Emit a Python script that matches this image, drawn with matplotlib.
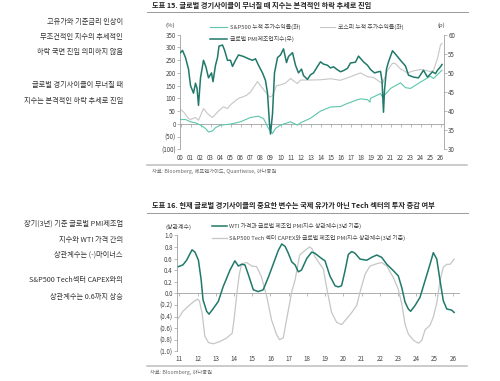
import numpy as np
import matplotlib
matplotlib.use("Agg")
import matplotlib.pyplot as plt
from matplotlib.lines import Line2D

plt.rcParams['font.family'] = ['Noto Sans CJK KR', 'DejaVu Sans']

# ---- 도표 15 데이터 ----
pmi_t = [2000.0, 2000.2, 2000.5, 2000.8, 2001.0, 2001.3, 2001.5, 2001.65, 2001.8, 2002.0,
         2002.3, 2002.55, 2002.8, 2003.1, 2003.25, 2003.5, 2003.7, 2003.85, 2004.2, 2004.4,
         2004.7, 2005.0, 2005.2, 2005.5, 2005.8, 2006.3, 2006.8, 2007.2, 2007.5, 2007.8,
         2008.2, 2008.5, 2008.7, 2008.9, 2009.0, 2009.2, 2009.4, 2009.7, 2010.0, 2010.3,
         2010.6, 2010.8, 2011.2, 2011.5, 2011.8, 2012.1, 2012.3, 2012.7, 2013.0, 2013.3,
         2013.7, 2014.0, 2014.3, 2014.7, 2015.0, 2015.3, 2015.7, 2016.0, 2016.3, 2016.7,
         2017.0, 2017.5, 2017.8, 2018.3, 2018.7, 2019.0, 2019.4, 2019.8, 2020.0, 2020.15,
         2020.3, 2020.4, 2020.6, 2020.8, 2021.2, 2021.5, 2022.0, 2022.5, 2022.8, 2023.3,
         2023.8, 2024.3, 2024.7, 2025.2, 2025.5, 2025.7, 2026.0, 2026.15]
pmi_v = [55.3, 55.9, 54.0, 51.0, 46.7, 44.7, 47.3, 46.0, 41.5, 48.7,
         53.3, 51.5, 48.7, 50.0, 47.7, 52.0, 54.0, 57.0, 57.3, 56.0,
         53.3, 53.3, 51.7, 53.3, 54.7, 54.3, 53.7, 53.3, 53.7, 52.0,
         50.0, 48.0, 44.7, 36.7, 34.0, 39.3, 50.0, 54.0, 54.7, 56.3,
         52.7, 54.3, 55.3, 52.0, 50.0, 51.0, 49.3, 48.3, 49.5, 50.0,
         51.7, 52.9, 52.3, 52.0, 51.3, 51.6, 50.8, 50.3, 50.6, 51.2,
         52.6, 52.8, 54.4, 52.9, 52.0, 50.9, 50.0, 50.3, 50.4, 48.0,
         39.7, 45.4, 51.0, 52.9, 55.8, 54.9, 53.3, 51.8, 49.4, 48.9,
         48.7, 50.7, 48.9, 50.3, 49.8, 50.7, 51.6, 52.2]

sp_t = [2000.0, 2000.5, 2001.0, 2001.5, 2002.0, 2002.5, 2002.8, 2003.2, 2003.5, 2004.0,
        2005.0, 2006.0, 2007.0, 2007.8, 2008.3, 2008.8, 2009.2, 2009.5, 2010.0, 2011.0,
        2011.7, 2012.0, 2013.0, 2014.0, 2015.0, 2016.0, 2016.5, 2017.5, 2018.0, 2018.7,
        2018.95, 2019.0, 2020.0, 2020.2, 2020.7, 2021.0, 2022.0, 2022.5, 2023.0, 2024.0,
        2025.0, 2025.3, 2026.0, 2026.15]
sp_v = [17, 17, 8, 4, -5, -18, -32, -28, -15, -5,
        -1, 8, 25, 30, 21, -18, -38, -18, -5, 8,
        -5, 4, 22, 50, 66, 68, 77, 92, 98, 95,
        85, 100, 119, 105, 125, 139, 161, 142, 139, 164,
        187, 178, 205, 210]

kospi_t = [2000.0, 2000.3, 2000.8, 2001.0, 2001.5, 2001.8, 2002.3, 2002.7, 2003.2, 2003.8,
           2004.3, 2004.7, 2005.0, 2005.8, 2006.3, 2006.6, 2007.0, 2007.7, 2008.0, 2008.5,
           2008.9, 2009.2, 2009.6, 2010.0, 2010.5, 2011.0, 2011.7, 2012.0, 2013.0, 2014.0,
           2015.0, 2016.0, 2017.0, 2018.0, 2018.7, 2019.3, 2020.2, 2020.7, 2021.2, 2021.5,
           2022.0, 2022.7, 2023.3, 2024.0, 2024.5, 2025.0, 2025.3, 2025.7, 2026.0, 2026.15]
kospi_v = [57, 47, 21, 17, 25, 14, 60, 40, 25, 50,
           67, 60, 75, 100, 107, 112, 125, 166, 150, 125,
           105, 110, 150, 153, 160, 178, 158, 172, 172, 173,
           177, 171, 185, 200, 185, 182, 158, 210, 238, 236,
           216, 200, 208, 213, 210, 205, 210, 257, 310, 316]

years1 = list(range(2000, 2027))
left_ticks1 = [-100, -50, 0, 50, 100, 150, 200, 250, 300, 350]
right_ticks1 = [30, 35, 40, 45, 50, 55, 60]

# ---- 도표 16 데이터 ----
wti_t = [2010.95, 2011.2, 2011.4, 2011.7, 2011.86, 2012.05, 2012.2, 2012.3, 2012.5, 2012.63,
         2012.87, 2013.14, 2013.4, 2013.78, 2014.05, 2014.24, 2014.42, 2014.6, 2014.8, 2015.06,
         2015.33, 2015.6, 2015.9, 2016.16, 2016.43, 2016.62, 2016.8, 2016.98, 2017.17, 2017.35,
         2017.53, 2017.7, 2017.99, 2018.26, 2018.44, 2018.72, 2018.99, 2019.26, 2019.54, 2019.72,
         2019.9, 2020.09, 2020.27, 2020.46, 2020.64, 2020.91, 2021.28, 2021.55, 2021.83, 2022.1,
         2022.38, 2022.74, 2023.01, 2023.2, 2023.38, 2023.56, 2023.69, 2023.93, 2024.2, 2024.48,
         2024.75, 2024.93, 2025.12, 2025.3, 2025.48, 2025.67, 2025.94, 2026.07]
wti_v = [0.46, 0.49, 0.57, 0.75, 0.71, 0.57, 0.23, -0.11, -0.31, -0.36,
         -0.26, -0.14, 0.11, 0.40, 0.56, 0.47, 0.50, 0.49, 0.31, 0.06,
         0.03, 0.06, 0.29, 0.51, 0.74, 0.85, 0.81, 0.69, 0.54, 0.49,
         0.37, 0.40, 0.60, 0.71, 0.69, 0.62, 0.56, 0.30, 0.13, 0.11,
         0.13, 0.39, 0.67, 0.72, 0.69, 0.59, 0.57, 0.62, 0.66, 0.62,
         0.50, 0.39, 0.30, 0.10, -0.15, -0.27, -0.31, -0.21, -0.07, 0.22,
         0.50, 0.70, 0.59, 0.22, -0.13, -0.27, -0.29, -0.33]

capex_t = [2010.95, 2011.2, 2011.5, 2011.8, 2012.0, 2012.1, 2012.25, 2012.4, 2012.6, 2012.87,
           2013.24, 2013.6, 2013.9, 2014.0, 2014.2, 2014.3, 2014.42, 2014.7, 2014.97, 2015.24,
           2015.5, 2015.8, 2016.06, 2016.33, 2016.5, 2016.7, 2016.98, 2017.17, 2017.35, 2017.6,
           2017.9, 2018.15, 2018.3, 2018.44, 2018.72, 2018.9, 2019.08, 2019.35, 2019.63, 2019.9,
           2020.18, 2020.46, 2020.73, 2020.91, 2021.19, 2021.46, 2021.83, 2022.1, 2022.38, 2022.74,
           2023.01, 2023.2, 2023.38, 2023.56, 2023.84, 2024.11, 2024.3, 2024.48, 2024.75, 2024.93,
           2025.12, 2025.3, 2025.48, 2025.67, 2025.85, 2026.0, 2026.07]
capex_v = [-0.43, -0.31, -0.22, -0.14, -0.10, -0.13, -0.34, -0.74, -0.85, -0.87,
           -0.83, -0.77, -0.69, -0.46, 0.11, 0.34, 0.51, 0.53, 0.47, 0.46,
           0.29, -0.06, -0.46, -0.71, -0.80, -0.77, -0.29, 0.03, 0.23, 0.66,
           0.74, 0.80, 0.76, 0.63, 0.50, 0.42, 0.10, -0.33, -0.50, -0.54,
           -0.44, -0.33, -0.21, 0.02, 0.33, 0.47, 0.51, 0.53, 0.47, 0.27,
           0.07, -0.18, -0.53, -0.70, -0.81, -0.86, -0.81, -0.63, -0.55, -0.41,
           -0.17, 0.22, 0.45, 0.50, 0.50, 0.56, 0.59]

years2 = list(range(2011, 2027))
ticks2 = [-1.0, -0.8, -0.6, -0.4, -0.2, 0.0, 0.2, 0.4, 0.6, 0.8, 1.0]

DARK = '#20796a'
MINT = '#5cc6ad'
GREY = '#c6c6c6'
AXC = '#a0a0a0'
TXT = '#444444'

W, H = 500, 381
def fx(px):
    return px / W
def fy(py):
    return 1 - py / H

def paren(v, fmt):
    s = fmt.format(abs(v))
    return f"({s})" if v < -1e-9 else s

fig = plt.figure(figsize=(5, 3.81), dpi=100)

# 왼쪽 설명 문구
side = [("고유가와 기준금리 인상이", 22), ("무조건적인 지수의 추세적인", 37),
        ("하락 국면 진입 의미하지 않음", 52), ("글로벌 경기사이클이 무너질 때", 85),
        ("지수는 본격적인 하락 추세로 진입", 101), ("장기(3년) 기준 글로벌 PMI제조업", 224),
        ("지수와 WTI 가격 간의", 240), ("상관계수는 (-)마이너스", 255),
        ("S&P500 Tech섹터 CAPEX와의", 280), ("상관계수는 0.6까지 상승", 297)]
for s, y in side:
    fig.text(fx(123), fy(y), s, ha='right', va='center', fontsize=5.2, color='#333333')

# ---------------- 도표 15 ----------------
fig.text(fx(152), fy(5.5), "도표 15. 글로벌 경기사이클이 무너질 때 지수는 본격적인 하락 추세로 진입",
         fontsize=5.2, fontweight='bold', va='center', color='#222222')
fig.add_artist(Line2D([fx(147), fx(468)], [fy(12), fy(12)], color='#999999', lw=0.7))

ax1 = fig.add_axes([fx(180), fy(149.3), (444 - 180) / W, 114.6 / H])
ax1.set_xlim(1999.95, 2026.35)
ax1.set_ylim(-100, 350)
ax1.plot(sp_t, sp_v, color=MINT, lw=0.8, zorder=3)
ax1.plot(kospi_t, kospi_v, color=GREY, lw=0.8, zorder=2)
for sp in ['top', 'bottom', 'right']:
    ax1.spines[sp].set_visible(False)
ax1.spines['left'].set_color(AXC)
ax1.spines['left'].set_linewidth(0.6)
ax1.set_yticks(left_ticks1)
ax1.set_yticklabels([paren(v, "{:d}") for v in left_ticks1])
ax1.set_xticks(years1)
ax1.set_xticklabels([f"{y % 100:02d}" for y in years1])
ax1.tick_params(axis='y', labelsize=4.5, length=2, width=0.5, color=AXC, labelcolor=TXT, pad=1)
ax1.tick_params(axis='x', labelsize=4.5, length=0, labelcolor=TXT, pad=3.5)

sec1 = ax1.secondary_xaxis(100 / 450)
sec1.set_xticks(years1)
sec1.tick_params(labelbottom=False, labeltop=False, length=2, width=0.5, color=AXC)
sec1.spines['bottom'].set_color(AXC)
sec1.spines['bottom'].set_linewidth(0.6)

ax1r = ax1.twinx()
ax1r.set_ylim(30, 60)
ax1r.plot(pmi_t, pmi_v, color=DARK, lw=1.1, zorder=4)
for sp in ['top', 'bottom', 'left']:
    ax1r.spines[sp].set_visible(False)
ax1r.spines['right'].set_color(AXC)
ax1r.spines['right'].set_linewidth(0.6)
ax1r.set_yticks(right_ticks1)
ax1r.tick_params(axis='y', labelsize=4.5, length=2, width=0.5, color=AXC, labelcolor=TXT, pad=1)

fig.text(fx(170), fy(25), "(%)", fontsize=4.3, color=TXT, ha='center', va='center')
fig.text(fx(441), fy(25), "(p)", fontsize=4.3, color=TXT, ha='center', va='center')

# 범례
leg1 = [(MINT, 0.8, 210, 227, 27.3, 230, "S&P500 누적 주가수익률(좌)"),
        (GREY, 0.8, 320, 335, 27.3, 338, "코스피 누적 주가수익률(좌)"),
        (DARK, 1.1, 210, 227, 38.5, 230, "글로벌 PMI제조업지수(우)")]
for c, lw, x0, x1, y, xt, s in leg1:
    fig.add_artist(Line2D([fx(x0), fx(x1)], [fy(y), fy(y)], color=c, lw=lw))
    fig.text(fx(xt), fy(y), s, fontsize=4.2, color=TXT, va='center')

fig.add_artist(Line2D([fx(147), fx(467)], [fy(164.5), fy(164.5)], color='#bdbdbd', lw=1.1))
fig.text(fx(152), fy(171), "자료: Bloomberg, 에프앤가이드, Quantiwise, 하나증권",
         fontsize=3.8, color='#666666', va='center')

# ---------------- 도표 16 ----------------
fig.text(fx(152), fy(205), "도표 16. 현재 글로벌 경기사이클의 중요한 변수는 국제 유가가 아닌 Tech 섹터의 투자 증감 여부",
         fontsize=5.2, fontweight='bold', va='center', color='#222222')
fig.add_artist(Line2D([fx(147), fx(468)], [fy(213), fy(213)], color='#999999', lw=0.7))

ax2 = fig.add_axes([fx(177), fy(351.3), (459 - 177) / W, 116 / H])
ax2.set_xlim(2010.874, 2026.34)
ax2.set_ylim(-1.0, 1.0)
ax2.plot(capex_t, capex_v, color=GREY, lw=0.9, zorder=2)
ax2.plot(wti_t, wti_v, color=DARK, lw=1.1, zorder=3)
for sp in ['top', 'bottom', 'right']:
    ax2.spines[sp].set_visible(False)
ax2.spines['left'].set_color(AXC)
ax2.spines['left'].set_linewidth(0.6)
ax2.set_yticks(ticks2)
ax2.set_yticklabels([paren(v, "{:.1f}") for v in ticks2])
ax2.set_xticks(years2)
ax2.set_xticklabels([f"{y % 100:02d}" for y in years2])
ax2.tick_params(axis='y', labelsize=4.5, length=2, width=0.5, color=AXC, labelcolor=TXT, pad=1)
ax2.tick_params(axis='x', labelsize=4.5, length=0, labelcolor=TXT, pad=2.5)

# 0.0 기준선 (0.5 바로 아래로 두어 눈금이 아래쪽을 향하게 함)
sec2 = ax2.secondary_xaxis(0.4999)
sec2.set_xticks(years2)
sec2.tick_params(labelbottom=False, labeltop=False, length=2, width=0.5, color=AXC)
sec2.spines['bottom'].set_color(AXC)
sec2.spines['bottom'].set_linewidth(0.6)

fig.text(fx(178), fy(226.7), "(상관계수)", fontsize=4.3, color=TXT, ha='center', va='center')
leg2 = [(DARK, 1.1, 212, 227, 225.7, "WTI 가격과 글로벌 제조업 PMI지수 상관계수(3년 기준)"),
        (GREY, 0.9, 212, 227, 238.3, "S&P500 Tech 섹터 CAPEX와 글로벌 제조업 PMI지수 상관계수(3년 기준)")]
for c, lw, x0, x1, y, s in leg2:
    fig.add_artist(Line2D([fx(x0), fx(x1)], [fy(y), fy(y)], color=c, lw=lw))
    fig.text(fx(229), fy(y), s, fontsize=4.2, color=TXT, va='center')

fig.add_artist(Line2D([fx(147), fx(467)], [fy(365.7), fy(365.7)], color='#bdbdbd', lw=1.1))
fig.text(fx(150), fy(372), "자료: Bloomberg, 하나증권", fontsize=3.8, color='#666666', va='center')

fig.savefig("out.png", dpi=100, facecolor='white')
